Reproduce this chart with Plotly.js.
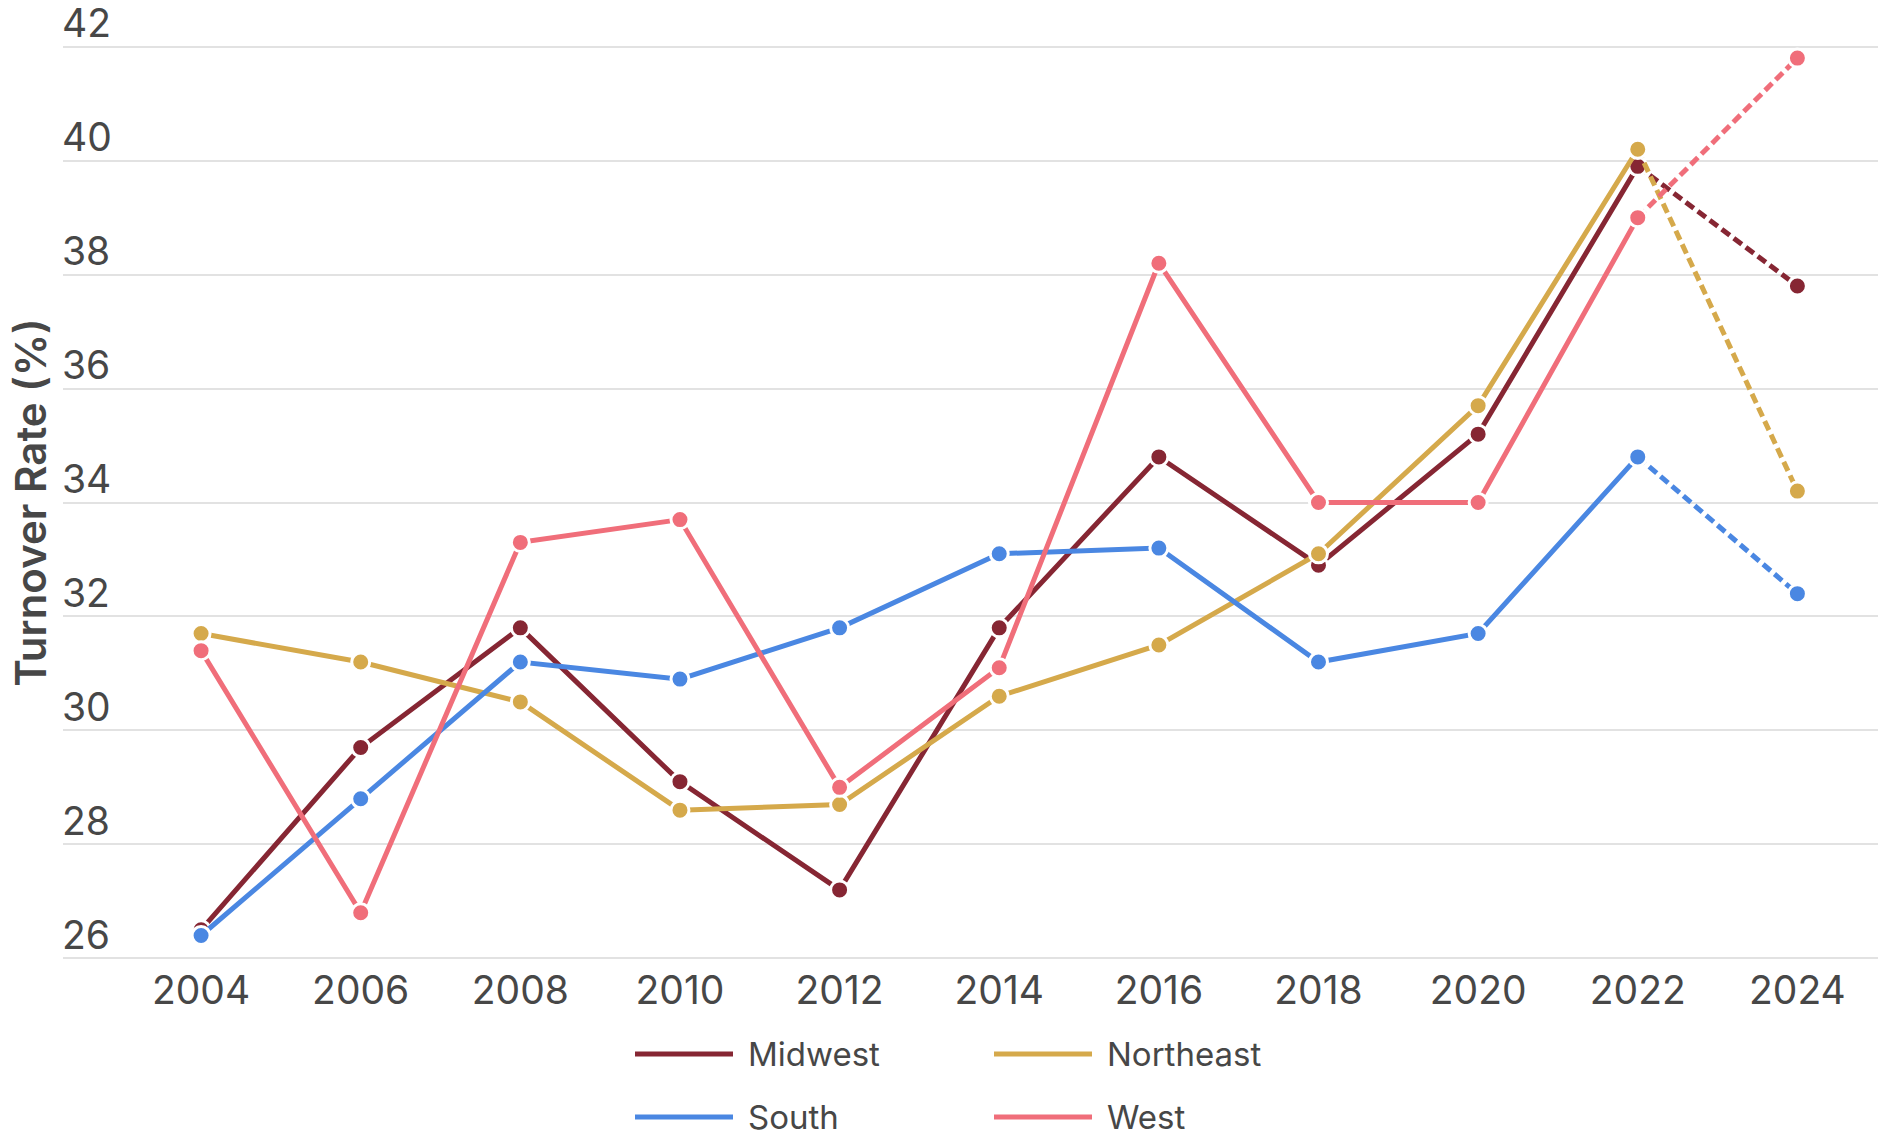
<!DOCTYPE html>
<html><head><meta charset="utf-8">
<script src="https://cdn.plot.ly/plotly-3.0.1.min.js"></script>
<style>html,body{margin:0;padding:0;background:#fff}#chart{width:1878px;height:1136px}</style>
</head><body><div id="chart"></div>
<script>
// ---- data ----
const years = [2004, 2006, 2008, 2010, 2012, 2014, 2016, 2018, 2020, 2022, 2024];
const midwest   = [26.5, 29.7, 31.8, 29.1, 27.2, 31.8, 34.8, 32.9, 35.2, 39.9, 37.8];
const northeast = [31.7, 31.2, 30.5, 28.6, 28.7, 30.6, 31.5, 33.1, 35.7, 40.2, 34.2];
const south     = [26.4, 28.8, 31.2, 30.9, 31.8, 33.1, 33.2, 31.2, 31.7, 34.8, 32.4];
const west      = [31.4, 26.8, 33.3, 33.7, 29.0, 31.1, 38.2, 34.0, 34.0, 39.0, 41.8];
const seriesNames  = ['Midwest', 'Northeast', 'South', 'West'];
const seriesColors = ['#862633', '#D5A94B', '#4A87E2', '#F06E7A'];
const yTickVals = [26, 28, 30, 32, 34, 36, 38, 40, 42];
const xTickVals = [2004, 2006, 2008, 2010, 2012, 2014, 2016, 2018, 2020, 2022, 2024];
const projectionFromYear = 2022;
const yTitle = 'Turnover Rate (%)';

// ---- layout constants ----
const W = 1878, H = 1136;
const M = {l: 63, r: 0, t: 45, b: 176};
const plotW = W - M.l - M.r, plotH = H - M.t - M.b;
const FONT = 'Inter, "Open Sans", sans-serif';
const TXT = '#474747';

const allSeries = [midwest, northeast, south, west];
const splitIdx = years.indexOf(projectionFromYear);

const traces = [];
allSeries.forEach((vals, i) => {
  const marker = {size: 18, color: seriesColors[i], line: {color: '#ffffff', width: 3}};
  traces.push({
    x: years.slice(0, splitIdx + 1), y: vals.slice(0, splitIdx + 1),
    type: 'scatter', mode: 'lines+markers', name: seriesNames[i],
    line: {color: seriesColors[i], width: 5}, marker: marker,
    cliponaxis: false, showlegend: false, hoverinfo: 'skip'
  });
  traces.push({
    x: years.slice(splitIdx), y: vals.slice(splitIdx),
    type: 'scatter', mode: 'lines+markers', name: seriesNames[i] + ' (projected)',
    line: {color: seriesColors[i], width: 5, dash: '10px,5px'}, marker: marker,
    cliponaxis: false, showlegend: false, hoverinfo: 'skip'
  });
});

// custom legend (long line samples)
const px2x = px => (px - M.l) / plotW;
const py2y = py => (H - M.b - py) / plotH;
const legendPos = [[635, 1054], [994, 1054], [635, 1117], [994, 1117]];
const shapes = [], annotations = [];
seriesNames.forEach((n, i) => {
  const [lx, ly] = legendPos[i];
  shapes.push({type: 'line', xref: 'paper', yref: 'paper',
    x0: px2x(lx), x1: px2x(lx + 98), y0: py2y(ly), y1: py2y(ly),
    line: {color: seriesColors[i], width: 5}});
  annotations.push({xref: 'paper', yref: 'paper', x: px2x(lx + 111), y: py2y(ly),
    xanchor: 'left', yanchor: 'middle', text: n, showarrow: false,
    font: {family: FONT, size: 33, color: TXT}});
});

const layout = {
  width: W, height: H,
  margin: M,
  paper_bgcolor: '#ffffff', plot_bgcolor: '#ffffff',
  showlegend: false,
  font: {family: FONT, color: TXT},
  xaxis: {
    range: [2002.27, 2025.01], tickvals: xTickVals, ticktext: xTickVals.map(String),
    showgrid: false, zeroline: false, showline: false, ticks: '',
    tickfont: {family: FONT, size: 39, color: TXT}, ticklabelstandoff: 4
  },
  yaxis: {
    range: [25.97, 42.03], tickvals: yTickVals, ticktext: yTickVals.map(String),
    showgrid: true, gridcolor: '#e2e2e2', gridwidth: 2, zeroline: false, showline: false,
    ticks: '', ticklabelposition: 'inside top', ticklabeloverflow: 'allow',
    ticklabelstandoff: -4, ticklabelshift: 4,
    tickfont: {family: FONT, size: 39, color: TXT},
    title: {text: yTitle, font: {family: FONT, size: 42, color: TXT, weight: 600}, standoff: 2},
    automargin: false
  },
  shapes: shapes, annotations: annotations
};

Plotly.newPlot('chart', traces, layout, {displayModeBar: false, staticPlot: true});
</script></body></html>
